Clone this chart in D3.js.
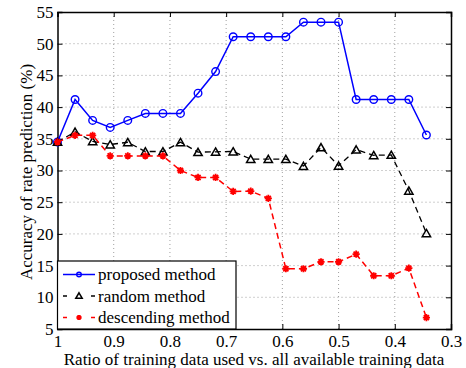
<!DOCTYPE html>
<html>
<head>
<meta charset="utf-8">
<script src="https://cdn.jsdelivr.net/npm/d3@7"></script>
<style>
  body{margin:0;background:#fff}
</style>
</head>
<body>
<svg id="chart" width="466" height="368"></svg>
<script>
// ratio of training data, step 1/32
const ratios = d3.range(22).map(k => (32 - k) / 32)
const proposed = [34.5, 41.2, 37.9, 36.8, 37.9, 39.0, 39.0, 39.0, 42.2, 45.6, 51.1, 51.1,
  51.1, 51.1, 53.4, 53.4, 53.4, 41.2, 41.2, 41.2, 41.2, 35.6]
const random = [34.5, 36.1, 34.6, 34.1, 34.45, 33.0, 33.0, 34.45, 32.9, 32.95, 33.0, 31.8,
  31.8, 31.8, 30.7, 33.65, 30.75, 33.3, 32.4, 32.45, 26.8, 20.1]
const descending = [34.5, 35.55, 35.55, 32.3, 32.3, 32.3, 32.3, 30.0, 28.9, 28.9, 26.7, 26.75,
  25.6, 14.5, 14.5, 15.6, 15.6, 16.8, 13.4, 13.4, 14.6, 6.8]
const xTicks = [1, 0.9, 0.8, 0.7, 0.6, 0.5, 0.4, 0.3]
const yTicks = d3.range(5, 56, 5)
const seriesNames = ['proposed method', 'random method', 'descending method']

const FONT = '"Liberation Serif", "Times New Roman", Times, serif'
const svg = d3.select('#chart')
const m = {left: 57.5, right: 451, top: 12, bottom: 329}
const x = d3.scaleLinear().domain([1, 0.3]).range([m.left, m.right])
const y = d3.scaleLinear().domain([5, 55]).range([m.bottom, m.top])

// grid
const grid = svg.append('g')
grid.selectAll('.gx').data(xTicks.slice(1, -1)).join('line')
  .attr('x1', d => x(d)).attr('x2', d => x(d))
  .attr('y1', m.top).attr('y2', m.bottom)
  .attr('stroke', '#888').attr('stroke-width', 0.8).attr('stroke-dasharray', '1,3')
grid.selectAll('.gy').data(yTicks.slice(1, -1)).join('line')
  .attr('y1', d => y(d)).attr('y2', d => y(d))
  .attr('x1', m.left).attr('x2', m.right)
  .attr('stroke', '#888').attr('stroke-width', 0.8).attr('stroke-dasharray', '1,3')

// axes (ticks inward, box)
const axB = svg.append('g').attr('transform', `translate(0,${m.bottom})`)
  .call(d3.axisBottom(x).tickValues(xTicks).tickSize(-5).tickPadding(6).tickFormat(d3.format('')))
const axT = svg.append('g').attr('transform', `translate(0,${m.top})`)
  .call(d3.axisTop(x).tickValues(xTicks).tickSize(-5).tickFormat(''))
const axL = svg.append('g').attr('transform', `translate(${m.left},0)`)
  .call(d3.axisLeft(y).tickValues(yTicks).tickSize(-5).tickPadding(4))
const axR = svg.append('g').attr('transform', `translate(${m.right},0)`)
  .call(d3.axisRight(y).tickValues(yTicks).tickSize(-5).tickFormat(''))
;[axB, axT, axL, axR].forEach(a => {
  a.attr('font-family', FONT).attr('font-size', 17)
  a.selectAll('path').attr('stroke', '#000').attr('stroke-width', 1.5)
  a.selectAll('line').attr('stroke', '#000')
  a.selectAll('text').attr('fill', '#000')
})

const line = d3.line().x((d, i) => x(ratios[i])).y(d => y(d))

function asterisk(g, cx, cy, r, color){
  const p = d3.path()
  for (let a = 0; a < 4; a++) {
    const t = a * Math.PI / 4
    p.moveTo(cx - r * Math.cos(t), cy - r * Math.sin(t))
    p.lineTo(cx + r * Math.cos(t), cy + r * Math.sin(t))
  }
  g.append('path').attr('d', p.toString()).attr('stroke', color).attr('stroke-width', 1.8)
  g.append('circle').attr('cx', cx).attr('cy', cy).attr('r', r * 0.6).attr('fill', color)
}
function triangle(g, cx, cy, s){
  g.append('path').attr('d', d3.symbol(d3.symbolTriangle, s)())
    .attr('transform', `translate(${cx},${cy + 1})`)
    .attr('fill', 'none').attr('stroke', '#000').attr('stroke-width', 1.5)
}
function circle(g, cx, cy, r){
  g.append('circle').attr('cx', cx).attr('cy', cy).attr('r', r)
    .attr('fill', 'none').attr('stroke', '#0000ff').attr('stroke-width', 1.4)
}

// proposed
const gP = svg.append('g')
gP.append('path').datum(proposed).attr('d', line).attr('fill', 'none')
  .attr('stroke', '#0000ff').attr('stroke-width', 1.5)
proposed.forEach((d, i) => circle(gP, x(ratios[i]), y(d), 3.8))
// random
const gR = svg.append('g')
gR.append('path').datum(random).attr('d', line).attr('fill', 'none')
  .attr('stroke', '#000').attr('stroke-width', 1.3).attr('stroke-dasharray', '6,4')
random.forEach((d, i) => triangle(gR, x(ratios[i]), y(d), 30))
// descending
const gD = svg.append('g')
gD.append('path').datum(descending).attr('d', line).attr('fill', 'none')
  .attr('stroke', '#ff0000').attr('stroke-width', 1.5).attr('stroke-dasharray', '6,4')
descending.forEach((d, i) => asterisk(gD, x(ratios[i]), y(d), 3.6, '#ff0000'))

// legend
const lg = svg.append('g')
lg.append('rect').attr('x', m.left).attr('y', 261).attr('width', 178.5).attr('height', m.bottom - 261)
  .attr('fill', '#fff').attr('stroke', '#000').attr('stroke-width', 1.2)
const ly = [274.5, 296, 317.5]
const lx1 = 63, lx2 = 95, lmid = (lx1 + lx2) / 2
seriesNames.forEach((name, i) => {
  const yy = ly[i]
  if (i === 0) {
    lg.append('line').attr('x1', lx1).attr('x2', lx2).attr('y1', yy).attr('y2', yy)
      .attr('stroke', '#0000ff').attr('stroke-width', 1.5)
    circle(lg, lmid, yy, 2.3)
  } else {
    const col = i === 1 ? '#000' : '#ff0000'
    ;[[lx1, lx1 + 4], [lx2 - 4, lx2]].forEach(s => lg.append('line')
      .attr('x1', s[0]).attr('x2', s[1]).attr('y1', yy).attr('y2', yy)
      .attr('stroke', col).attr('stroke-width', 1.5))
    if (i === 1) triangle(lg, lmid, yy - 0.5, 18)
    else asterisk(lg, lmid, yy, 2.6, col)
  }
  lg.append('text').attr('x', 98).attr('y', yy + 5.5).text(name)
    .attr('font-family', FONT).attr('font-size', 17).attr('fill', '#000')
})

// axis titles
svg.append('text').attr('x', 254).attr('y', 364.5).attr('text-anchor', 'middle')
  .attr('font-family', FONT).attr('font-size', 17)
  .text('Ratio of training data used vs. all available training data')
svg.append('text').attr('transform', 'translate(32,172) rotate(-90)')
  .attr('text-anchor', 'middle').attr('font-family', FONT).attr('font-size', 17)
  .text('Accuracy of rate prediction (%)')
</script>
</body>
</html>
